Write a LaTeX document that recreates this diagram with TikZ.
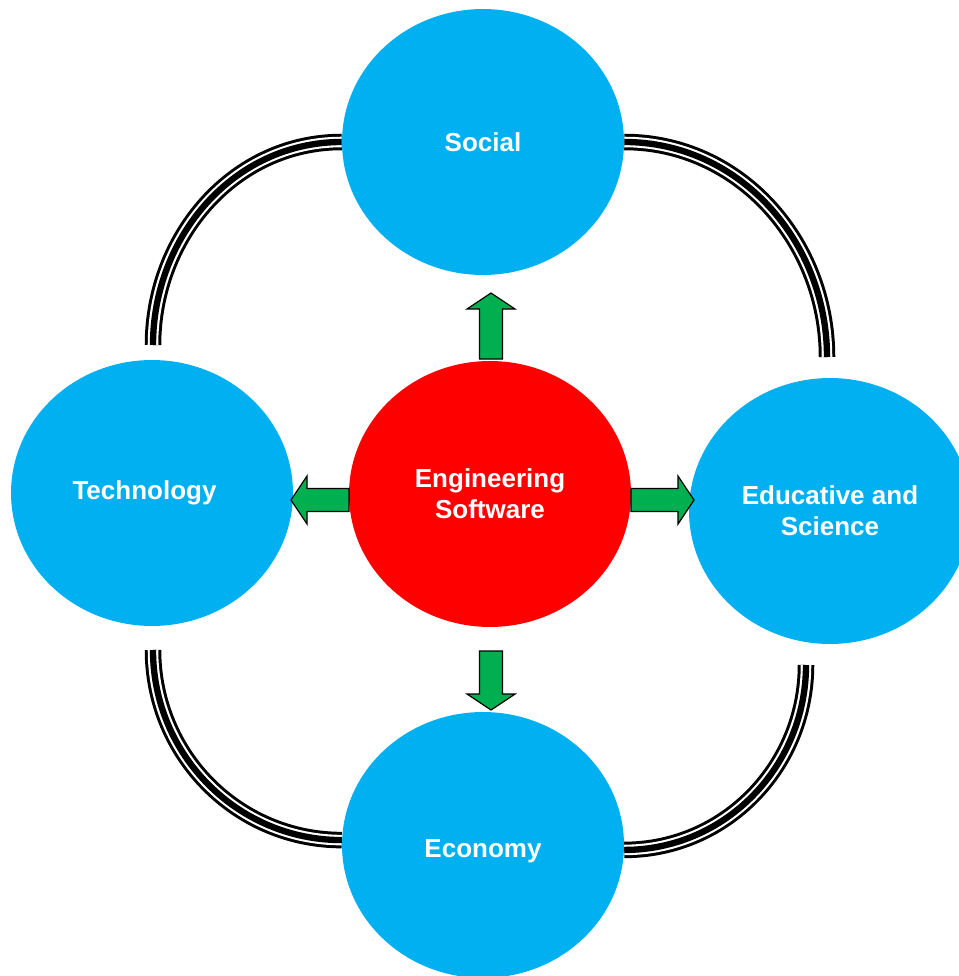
\documentclass[tikz,border=0pt]{standalone}
\usepackage{fontspec}
\setmainfont{Liberation Sans}
\usepackage{tikz}
\usetikzlibrary{shapes.geometric, positioning}
\definecolor{AreaBlue}{HTML}{00B0F0}
\definecolor{CoreRed}{HTML}{FF0000}
\definecolor{ArrowGreen}{HTML}{00B050}

\tikzset{
  areatext/.style={text=white, align=center, font=\fontsize{14.8}{17.6}\selectfont\bfseries},
  area/.style={ellipse, fill=AreaBlue, inner sep=0pt, minimum width=5.64cm, minimum height=5.32cm, areatext},
  triple/.style={draw=black, line width=9.4pt,
    postaction={draw=white, line width=6pt},
    postaction={draw=black, line width=3.6pt}},
}

\begin{document}
\begin{tikzpicture}[x=0.02cm, y=-0.02cm]
  % page is 958 x 976 units
  \useasboundingbox (0,0) rectangle (958,976);

  % the four areas and the core
  \node [area] (soc) at (483,142) {Social};
  \node [area, label={[areatext, xshift=-0.15cm]center:Technology}] (tech) at (152,493) {};
  \node [area] (edu) at (830,511) {Educative and\\Science};
  \node [area, label={[areatext, yshift=-0.12cm]center:Economy}] (eco) at (483,845) {};
  \node [area, fill=CoreRed] (core) at (490,494) {Engineering\\Software};

  % free ends of the rings
  \coordinate (tlEnd) at (153,345);
  \coordinate (trEnd) at (827,357);
  \coordinate (blStart) at (153,650);
  \coordinate (brStart) at (806,665);

  % triple rings between the areas
  \draw [triple] (soc.west) to[out=180, in=90] (tlEnd);
  \draw [triple] (soc.east) to[out=0, in=90] (trEnd);
  \draw [triple] (blStart) to[out=-90, in=180] (eco.178);
  \draw [triple] (brStart) to[out=-90, in=0] (eco.-2);

  % block arrows out of the core
  \foreach \ang/\st/\len in {90/141/66, 180/142/58, 0/140/63, 270/151/59}
    \draw [fill=ArrowGreen, draw=black, line width=0.7pt, line join=miter, shift={(491,500)}, rotate=\ang]
      (\st,-11.5) -- (\st+\len-16,-11.5) -- (\st+\len-16,-24) -- (\st+\len,0)
      -- (\st+\len-16,24) -- (\st+\len-16,11.5) -- (\st,11.5) -- cycle;
\end{tikzpicture}
\end{document}
